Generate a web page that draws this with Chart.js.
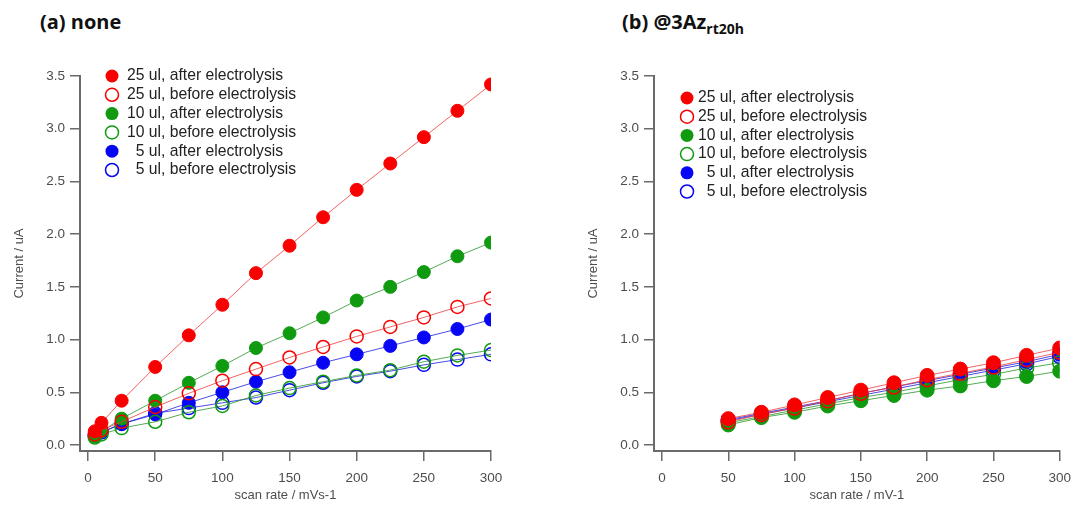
<!DOCTYPE html>
<html>
<head>
<meta charset="utf-8">
<script src="https://cdn.jsdelivr.net/npm/chart.js@4.4.1/dist/chart.umd.min.js"></script>
<style>
  body { margin: 0; width: 1080px; height: 505px; background: #fff; position: relative; overflow: hidden; }
  canvas { position: absolute; top: 0; }
  .title { position: absolute; top: 10px; font: 700 20px "Open Sans", sans-serif; color: #111; line-height: 24px; white-space: nowrap; }
  .title sub { font-size: 14px; vertical-align: -5px; line-height: 0; }
</style>
</head>
<body>
<div class="title" style="left:40px">(a) none</div>
<div class="title" style="left:622px">(b) @3Az<sub>rt20h</sub></div>
<canvas id="chartA" width="540" height="505" style="left:0"></canvas>
<canvas id="chartB" width="540" height="505" style="left:540px"></canvas>
<script>
// scan rates (mV/s) and axis ticks
const xNone = [5, 10, 25, 50, 75, 100, 125, 150, 175, 200, 225, 250, 275, 300];
const xAz = [50, 75, 100, 125, 150, 175, 200, 225, 250, 275, 300];
const xTicks = [0, 50, 100, 150, 200, 250, 300];
const yTicks = [0, 0.5, 1.0, 1.5, 2.0, 2.5, 3.0, 3.5];

const seriesLabels = [
  "25 ul, after electrolysis",
  "25 ul, before electrolysis",
  "10 ul, after electrolysis",
  "10 ul, before electrolysis",
  "5 ul, after electrolysis",
  "5 ul, before electrolysis"
];

// (a) none - current in uA
const none25After  = [0.13, 0.21, 0.42, 0.74, 1.04, 1.33, 1.63, 1.89, 2.16, 2.42, 2.67, 2.92, 3.17, 3.42];
const none25Before = [0.10, 0.14, 0.22, 0.36, 0.49, 0.61, 0.72, 0.83, 0.93, 1.03, 1.12, 1.21, 1.31, 1.39];
const none10After  = [0.08, 0.13, 0.25, 0.42, 0.59, 0.75, 0.92, 1.06, 1.21, 1.37, 1.50, 1.64, 1.79, 1.92];
const none10Before = [0.07, 0.10, 0.16, 0.22, 0.31, 0.37, 0.47, 0.54, 0.60, 0.66, 0.71, 0.79, 0.85, 0.90];
const none5After   = [0.09, 0.12, 0.20, 0.29, 0.40, 0.50, 0.60, 0.69, 0.78, 0.86, 0.94, 1.02, 1.10, 1.19];
const none5Before  = [0.09, 0.12, 0.20, 0.30, 0.35, 0.40, 0.45, 0.52, 0.59, 0.65, 0.70, 0.76, 0.81, 0.86];

// (b) @3Az rt20h - current in uA
const az25After  = [0.25, 0.31, 0.38, 0.45, 0.52, 0.59, 0.66, 0.72, 0.78, 0.85, 0.92];
const az25Before = [0.22, 0.29, 0.35, 0.42, 0.49, 0.55, 0.62, 0.68, 0.74, 0.81, 0.88];
const az10After  = [0.19, 0.26, 0.31, 0.37, 0.42, 0.47, 0.52, 0.56, 0.61, 0.65, 0.70];
const az10Before = [0.21, 0.27, 0.33, 0.39, 0.45, 0.50, 0.56, 0.62, 0.67, 0.73, 0.78];
const az5After   = [0.24, 0.30, 0.36, 0.42, 0.49, 0.55, 0.61, 0.67, 0.73, 0.79, 0.86];
const az5Before  = [0.23, 0.29, 0.35, 0.41, 0.47, 0.53, 0.59, 0.65, 0.71, 0.77, 0.84];

const RED = "#f80000", GREEN = "#109a10", BLUE = "#0606f4";
const styles = [
  { color: RED,   line: "rgba(240,60,60,0.8)",  filled: true },
  { color: RED,   line: "rgba(240,60,60,0.8)",  filled: false },
  { color: GREEN, line: "rgba(40,150,40,0.8)",  filled: true },
  { color: GREEN, line: "rgba(40,150,40,0.8)",  filled: false },
  { color: BLUE,  line: "rgba(30,30,220,0.8)",  filled: true },
  { color: BLUE,  line: "rgba(30,30,220,0.8)",  filled: false }
];

const AXIS = "#6a6a6a";
const TICK_TEXT = "#4d4d4d";
const FONT = '"Liberation Sans", Arial, sans-serif';

function buildDatasets(xs, series, radius) {
  return series.map((vals, i) => ({
    label: seriesLabels[i],
    data: vals.map((v, j) => ({ x: xs[j], y: v })),
    showLine: true,
    borderColor: styles[i].line,
    borderWidth: 1,
    pointRadius: radius,
    pointBackgroundColor: styles[i].filled ? styles[i].color : "rgba(255,255,255,0)",
    pointBorderColor: styles[i].color,
    pointBorderWidth: styles[i].filled ? 1 : 1.5
  }));
}

// legend drawn inside the plot area
const inlineLegend = {
  id: "inlineLegend",
  afterDraw(chart, args, opts) {
    const ctx = chart.ctx;
    ctx.save();
    ctx.font = "15.7px " + FONT;
    ctx.textBaseline = "middle";
    const numW = ctx.measureText("25").width;
    chart.data.datasets.forEach((ds, i) => {
      const y = opts.y + i * opts.dy;
      const st = styles[i];
      ctx.beginPath();
      ctx.arc(opts.x, y, opts.r, 0, Math.PI * 2);
      if (st.filled) {
        ctx.fillStyle = st.color;
        ctx.fill();
      } else {
        ctx.lineWidth = 1.5;
        ctx.strokeStyle = st.color;
        ctx.stroke();
      }
      const label = ds.label;
      const cut = label.indexOf(" ");
      ctx.fillStyle = "#222";
      ctx.textAlign = "right";
      ctx.fillText(label.slice(0, cut), opts.textX + numW, y);
      ctx.textAlign = "left";
      ctx.fillText(label.slice(cut), opts.textX + numW, y);
    });
    ctx.restore();
  }
};

function makeChart(id, xs, series, cfg) {
  return new Chart(document.getElementById(id), {
    type: "scatter",
    data: { datasets: buildDatasets(xs, series, cfg.radius) },
    plugins: [inlineLegend],
    options: {
      responsive: false,
      animation: false,
      devicePixelRatio: 1,
      events: [],
      layout: { padding: { left: 0, top: 76, right: cfg.padRight, bottom: 0 } },
      plugins: {
        legend: { display: false },
        tooltip: { enabled: false },
        inlineLegend: cfg.legend
      },
      scales: {
        x: {
          type: "linear",
          min: -6,
          max: 300,
          afterBuildTicks: (s) => { s.ticks = xTicks.map((v) => ({ value: v })); },
          afterFit: (s) => { s.height = 54; },
          ticks: { color: TICK_TEXT, font: { family: FONT, size: 13.5 }, padding: 9, maxRotation: 0, autoSkip: false },
          grid: { display: true, drawOnChartArea: false, drawTicks: true, tickLength: 10, color: AXIS, lineWidth: 1.5 },
          border: { display: true, color: AXIS, width: 2 },
          title: { display: true, text: cfg.xTitle, color: TICK_TEXT, font: { family: FONT, size: 13 }, padding: { top: 0, bottom: 2 } }
        },
        y: {
          type: "linear",
          min: -0.057,
          max: 3.5,
          afterBuildTicks: (s) => { s.ticks = yTicks.map((v) => ({ value: v })); },
          afterFit: (s) => { s.width = cfg.yWidth; },
          ticks: {
            color: TICK_TEXT, font: { family: FONT, size: 13.5 }, padding: 5,
            callback: (v) => v.toFixed(1)
          },
          grid: { display: true, drawOnChartArea: false, drawTicks: true, tickLength: 10, color: AXIS, lineWidth: 1.5 },
          border: { display: true, color: AXIS, width: 2 },
          title: { display: true, text: "Current / uA", color: TICK_TEXT, font: { family: FONT, size: 13 }, padding: { top: cfg.yTitlePad, bottom: 0 } }
        }
      }
    }
  });
}

makeChart("chartA", xNone,
  [none25After, none25Before, none10After, none10Before, none5After, none5Before],
  {
    padRight: 49, yWidth: 80, yTitlePad: 12, xTitle: "scan rate / mVs-1", radius: 6.5,
    legend: { x: 112, y: 76, dy: 18.8, r: 6.5, textX: 127 }
  });

makeChart("chartB", xAz,
  [az25After, az25Before, az10After, az10Before, az5After, az5Before],
  {
    padRight: 17, yWidth: 114, yTitlePad: 46, xTitle: "scan rate / mV-1", radius: 7,
    legend: { x: 147, y: 98, dy: 18.7, r: 6.5, textX: 158 }
  });
</script>
</body>
</html>
